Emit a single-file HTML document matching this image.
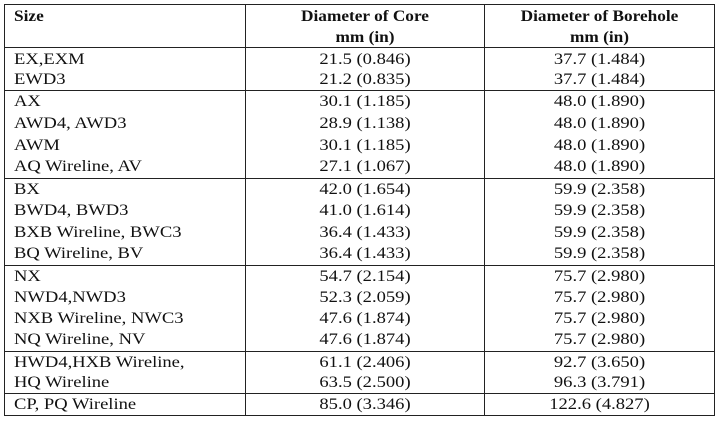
<!DOCTYPE html>
<html><head><meta charset="utf-8"><style>
body{margin:0;background:#fff;width:720px;height:422px;position:relative;overflow:hidden;font-family:"Liberation Serif",serif;font-size:16px;color:#111}
.h{position:absolute;background:#222;height:1px}
.v{position:absolute;background:#222;width:1px}
.c{position:absolute;height:21px;line-height:21px;white-space:nowrap;transform:scaleX(1.16)}
.a{left:14px;transform-origin:left center}
.b{left:245px;width:240px;text-align:center;transform-origin:center center}
.d{left:485px;width:229px;text-align:center;transform-origin:center center}
.hd{font-weight:bold;transform:scaleX(1.08)}
</style></head><body>
<div class="h" style="left:4px;width:711px;top:4px"></div>
<div class="h" style="left:4px;width:711px;top:47px"></div>
<div class="h" style="left:4px;width:711px;top:90px"></div>
<div class="h" style="left:4px;width:711px;top:178px"></div>
<div class="h" style="left:4px;width:711px;top:265px"></div>
<div class="h" style="left:4px;width:711px;top:351px"></div>
<div class="h" style="left:4px;width:711px;top:393px"></div>
<div class="h" style="left:4px;width:711px;top:415px"></div>
<div class="v" style="left:4px;top:4px;height:412px"></div>
<div class="v" style="left:245px;top:4px;height:412px"></div>
<div class="v" style="left:484px;top:4px;height:412px"></div>
<div class="v" style="left:714px;top:4px;height:412px"></div>

<div class="c a hd" style="top:6px">Size</div>
<div class="c b hd" style="top:6px">Diameter of Core</div>
<div class="c b hd" style="top:27px">mm (in)</div>
<div class="c d hd" style="top:6px">Diameter of Borehole</div>
<div class="c d hd" style="top:27px">mm (in)</div>

<div class="c a" style="top:49px">EX,EXM</div><div class="c b" style="top:49px">21.5 (0.846)</div><div class="c d" style="top:49px">37.7 (1.484)</div>
<div class="c a" style="top:69px">EWD3</div><div class="c b" style="top:69px">21.2 (0.835)</div><div class="c d" style="top:69px">37.7 (1.484)</div>

<div class="c a" style="top:91px">AX</div><div class="c b" style="top:91px">30.1 (1.185)</div><div class="c d" style="top:91px">48.0 (1.890)</div>
<div class="c a" style="top:113px">AWD4, AWD3</div><div class="c b" style="top:113px">28.9 (1.138)</div><div class="c d" style="top:113px">48.0 (1.890)</div>
<div class="c a" style="top:135px">AWM</div><div class="c b" style="top:135px">30.1 (1.185)</div><div class="c d" style="top:135px">48.0 (1.890)</div>
<div class="c a" style="top:156px">AQ Wireline, AV</div><div class="c b" style="top:156px">27.1 (1.067)</div><div class="c d" style="top:156px">48.0 (1.890)</div>

<div class="c a" style="top:179px">BX</div><div class="c b" style="top:179px">42.0 (1.654)</div><div class="c d" style="top:179px">59.9 (2.358)</div>
<div class="c a" style="top:200px">BWD4, BWD3</div><div class="c b" style="top:200px">41.0 (1.614)</div><div class="c d" style="top:200px">59.9 (2.358)</div>
<div class="c a" style="top:222px">BXB Wireline, BWC3</div><div class="c b" style="top:222px">36.4 (1.433)</div><div class="c d" style="top:222px">59.9 (2.358)</div>
<div class="c a" style="top:243px">BQ Wireline, BV</div><div class="c b" style="top:243px">36.4 (1.433)</div><div class="c d" style="top:243px">59.9 (2.358)</div>

<div class="c a" style="top:266px">NX</div><div class="c b" style="top:266px">54.7 (2.154)</div><div class="c d" style="top:266px">75.7 (2.980)</div>
<div class="c a" style="top:287px">NWD4,NWD3</div><div class="c b" style="top:287px">52.3 (2.059)</div><div class="c d" style="top:287px">75.7 (2.980)</div>
<div class="c a" style="top:308px">NXB Wireline, NWC3</div><div class="c b" style="top:308px">47.6 (1.874)</div><div class="c d" style="top:308px">75.7 (2.980)</div>
<div class="c a" style="top:329px">NQ Wireline, NV</div><div class="c b" style="top:329px">47.6 (1.874)</div><div class="c d" style="top:329px">75.7 (2.980)</div>

<div class="c a" style="top:352px">HWD4,HXB Wireline,</div><div class="c b" style="top:352px">61.1 (2.406)</div><div class="c d" style="top:352px">92.7 (3.650)</div>
<div class="c a" style="top:372px">HQ Wireline</div><div class="c b" style="top:372px">63.5 (2.500)</div><div class="c d" style="top:372px">96.3 (3.791)</div>

<div class="c a" style="top:394px">CP, PQ Wireline</div><div class="c b" style="top:394px">85.0 (3.346)</div><div class="c d" style="top:394px">122.6 (4.827)</div>
</body></html>
